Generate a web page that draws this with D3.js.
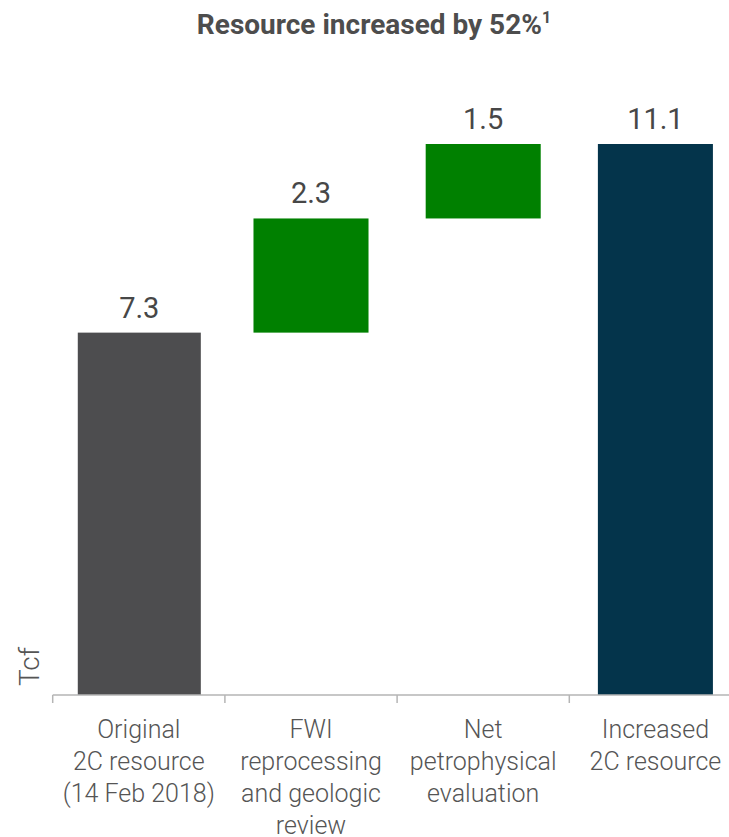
<!DOCTYPE html>
<meta charset="utf-8">
<html>
<title>Resource increased by 52%</title>
<script src="https://d3js.org/d3.v7.min.js"></script>
<style>
  body {margin: 0; background: #fff; font-family: Roboto, "Open Sans", sans-serif;}
  .title {font: 700 28px Roboto; fill: #4d4d4d;}
  .value {font: 400 29px Roboto; fill: #474747;}
  .cat {font: 300 25px Roboto; fill: #555;}
  .unit {font: 300 28px Roboto; fill: #555;}
  .axis line {stroke: #b5b5b5; stroke-width: 1.5px;}
</style>
<body>
<svg id="chart" width="729" height="837"></svg>
<script>
// chart data
var categories = ["Original 2C resource", "FWI reprocessing", "Net petrophysical", "Increased 2C resource"];
var catLines = [
  ["Original", "2C resource", "(14 Feb 2018)"],
  ["FWI", "reprocessing", "and geologic", "review"],
  ["Net", "petrophysical", "evaluation"],
  ["Increased", "2C resource"]
];
var values = [7.3, 2.3, 1.5, 11.1];
var kinds = ["total", "delta", "delta", "total"];
var valueLabels = ["7.3", "2.3", "1.5", "11.1"];

var colors = {first: "#4d4d4f", delta: "#008000", last: "#04344b"};

var svg = d3.select("#chart"),
    baseY = 695,
    left = 52.7,
    right = 741.5;

// running waterfall positions
var run = 0;
var bars = values.map(function (v, i) {
  var b;
  if (kinds[i] === "total") { b = {y0: 0, y1: v}; run = v; }
  else { b = {y0: run, y1: run + v}; run += v; }
  b.cat = categories[i];
  b.label = valueLabels[i];
  b.color = kinds[i] === "delta" ? colors.delta : (i === 0 ? colors.first : colors.last);
  return b;
});

var x = d3.scaleBand().domain(categories).range([left, right]).padding(0);
var xb = d3.scaleBand().domain(categories).range([left, right])
    .paddingInner(0.332).paddingOuter(0.166);
var y = d3.scaleLinear().domain([0, 11.1]).range([baseY, 144]);

svg.append("text")
    .attr("class", "title")
    .attr("x", 374)
    .attr("y", 34)
    .attr("text-anchor", "middle")
    .text("Resource increased by 52%")
  .append("tspan")
    .attr("font-size", 16)
    .attr("dy", -11)
    .text("1");

// first bar is drawn a little wider in the source
function barX(d, i) { return xb(d.cat) - (i === 0 ? 3.5 : 0); }
function barW(d, i) { return xb.bandwidth() + (i === 0 ? 8 : 0); }

svg.selectAll(".bar")
    .data(bars)
  .enter().append("rect")
    .attr("class", "bar")
    .attr("x", barX)
    .attr("width", barW)
    .attr("y", function (d) { return y(d.y1); })
    .attr("height", function (d) { return y(d.y0) - y(d.y1); })
    .attr("fill", function (d) { return d.color; });

svg.selectAll(".value")
    .data(bars)
  .enter().append("text")
    .attr("class", "value")
    .attr("x", function (d, i) { return barX(d, i) + barW(d, i) / 2; })
    .attr("y", function (d) { return y(d.y1) - 15; })
    .attr("text-anchor", "middle")
    .text(function (d) { return d.label; });

// axis: baseline with ticks at band boundaries
var axis = svg.append("g").attr("class", "axis");
axis.append("line")
    .attr("x1", left).attr("x2", right)
    .attr("y1", baseY).attr("y2", baseY);
var edges = categories.map(function (c) { return x(c); }).concat([right]);
axis.selectAll(".tick")
    .data(edges)
  .enter().append("line")
    .attr("x1", function (d) { return d; })
    .attr("x2", function (d) { return d; })
    .attr("y1", baseY)
    .attr("y2", baseY + 8);

var cats = svg.selectAll(".cat")
    .data(categories)
  .enter().append("text")
    .attr("class", "cat")
    .attr("text-anchor", "middle")
    .attr("transform", function (d) { return "translate(" + (x(d) + x.bandwidth() / 2) + ",737.7)"; });
cats.selectAll("tspan")
    .data(function (d, i) { return catLines[i]; })
  .enter().append("tspan")
    .attr("x", 0)
    .attr("y", function (d, j) { return j * 32; })
    .text(function (d) { return d; });

svg.append("text")
    .attr("class", "unit")
    .attr("transform", "translate(39,686) rotate(-90)")
    .text("Tcf");
</script>
</body>
</html>
